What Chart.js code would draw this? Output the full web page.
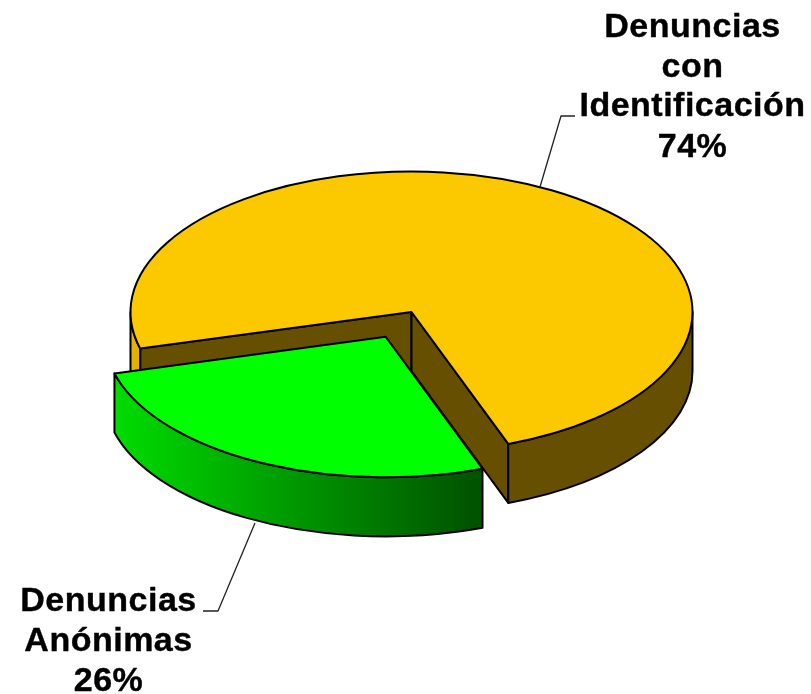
<!DOCTYPE html>
<html lang="es">
<head>
<meta charset="utf-8">
<title>Denuncias</title>
<script src="https://cdn.jsdelivr.net/npm/chart.js@4"></script>
<style>
  html, body { margin: 0; padding: 0; background: #fff; }
  canvas { display: block; }
</style>
</head>
<body>
<canvas id="pieChart" width="811" height="694"></canvas>
<script>
const categories = ['Denuncias con Identificación', 'Denuncias Anónimas'];
// labels print 74% and 26%, the slice angles read closer to these
const values = [73.6, 26.4];
const topColors = ['#FCC900', '#00FF00'];

// look of the fake 3D
const squash = 0.5;
const depth = 59;
const outlineWidth = 2;
const wallColor = '#665000';
const rimGradients = [
    { from: '#E6B400', to: '#665000', stops: [[0, 0], [1, 0.67]] },
    { from: '#00E000', to: '#005400', stops: [[0, 0], [1, 0.655]] }
];

// text blocks next to the pie
const labelFont = 'bold 34px "Liberation Sans", Arial, sans-serif';
const labelBlocks = [
    { x: 692.5, lines: [['Denuncias', 37], ['con', 77], ['Identificación', 116], [Math.round(values[0]) + '%', 157]] },
    { x: 108.5, lines: [['Denuncias', 611], ['Anónimas', 651], [Math.round(values[1]) + '%', 691]] }
];
const leaders = [
    [[540, 187], [561, 116], [575, 116]],
    [[255, 523], [218, 611], [203, 611]]
];

function slicePath(ctx, arc, offset) {
    const mid = (arc.startAngle + arc.endAngle) / 2;
    const x = arc.x + Math.cos(mid) * offset / 4;
    const y = arc.y + Math.sin(mid) * offset / 4 * squash;
    return { x, y, r: arc.outerRadius, ry: arc.outerRadius * squash };
}

function drawWalls(ctx, arc, offset, index) {
    const p = slicePath(ctx, arc, offset);
    const start = arc.startAngle;
    const end = arc.endAngle;

    ctx.lineWidth = outlineWidth;
    ctx.strokeStyle = '#000';
    ctx.lineJoin = 'round';

    // flat cut faces, only the ones turned to the viewer
    [[start, Math.sin(start - Math.PI / 2)], [end, Math.sin(end + Math.PI / 2)]].forEach(([a, facing]) => {
        if (facing <= 0) return;
        const ex = p.x + Math.cos(a) * p.r;
        const ey = p.y + Math.sin(a) * p.ry;
        ctx.beginPath();
        ctx.moveTo(p.x, p.y);
        ctx.lineTo(ex, ey);
        ctx.lineTo(ex, ey + depth);
        ctx.lineTo(p.x, p.y + depth);
        ctx.closePath();
        ctx.fillStyle = wallColor;
        ctx.fill();
        ctx.stroke();
    });

    // curved rim, front half of the ellipse only
    const look = rimGradients[index];
    const ranges = [[0, Math.PI], [2 * Math.PI, 3 * Math.PI]];
    const x0 = p.x - p.r;
    const grad = ctx.createLinearGradient(x0, 0, x0 + 2 * p.r, 0);
    grad.addColorStop(look.stops[0][1], look.from);
    grad.addColorStop(look.stops[1][1], look.to);
    grad.addColorStop(1, look.to);

    ranges.forEach(([lo, hi]) => {
        const a0 = Math.max(start, lo);
        const a1 = Math.min(end, hi);
        if (a1 <= a0) return;
        ctx.beginPath();
        ctx.ellipse(p.x, p.y, p.r, p.ry, 0, a0, a1);
        ctx.ellipse(p.x, p.y + depth, p.r, p.ry, 0, a1, a0, true);
        ctx.closePath();
        ctx.fillStyle = grad;
        ctx.fill();
        ctx.stroke();
    });
}

const pie3d = {
    id: 'pie3d',
    beforeDatasetsDraw(chart) {
        const ctx = chart.ctx;
        const meta = chart.getDatasetMeta(0);
        const offsets = chart.data.datasets[0].offset;

        ctx.save();
        meta.data.forEach((arc, i) => drawWalls(ctx, arc, offsets[i], i));
        ctx.restore();

        // the library draws the tops, flattened into an ellipse
        const cy = meta.data[0].y;
        ctx.save();
        ctx.translate(0, cy);
        ctx.scale(1, squash);
        ctx.translate(0, -cy);
    },
    afterDatasetsDraw(chart) {
        const ctx = chart.ctx;
        ctx.restore();

        const meta = chart.getDatasetMeta(0);
        const offsets = chart.data.datasets[0].offset;

        ctx.save();
        ctx.lineWidth = outlineWidth;
        ctx.strokeStyle = '#000';
        ctx.lineJoin = 'round';
        meta.data.forEach((arc, i) => {
            const p = slicePath(ctx, arc, offsets[i]);
            ctx.beginPath();
            ctx.moveTo(p.x, p.y);
            ctx.ellipse(p.x, p.y, p.r, p.ry, 0, arc.startAngle, arc.endAngle);
            ctx.closePath();
            ctx.stroke();
        });

        // leader lines
        ctx.lineWidth = 1.3;
        ctx.strokeStyle = '#222';
        leaders.forEach(line => {
            ctx.beginPath();
            line.forEach(([x, y], i) => (i ? ctx.lineTo(x, y) : ctx.moveTo(x, y)));
            ctx.stroke();
        });

        // labels
        ctx.fillStyle = '#000';
        ctx.strokeStyle = '#000';
        ctx.lineWidth = 0.4;
        ctx.font = labelFont;
        ctx.letterSpacing = '0.5px';
        ctx.textAlign = 'center';
        ctx.textBaseline = 'alphabetic';
        labelBlocks.forEach(block => {
            block.lines.forEach(([text, y]) => {
                ctx.fillText(text, block.x, y);
                ctx.strokeText(text, block.x, y);
            });
        });
        ctx.restore();
    }
};

new Chart(document.getElementById('pieChart').getContext('2d'), {
    type: 'pie',
    data: {
        labels: categories,
        datasets: [{
            data: values,
            backgroundColor: topColors,
            borderWidth: 0,
            offset: [0, 224],
            radius: 281,
            clip: false
        }]
    },
    options: {
        responsive: false,
        animation: false,
        rotation: 254.9,
        layout: { padding: { left: 12, bottom: 70 } },
        plugins: {
            legend: { display: false },
            tooltip: { enabled: false }
        }
    },
    plugins: [pie3d]
});
</script>
</body>
</html>
